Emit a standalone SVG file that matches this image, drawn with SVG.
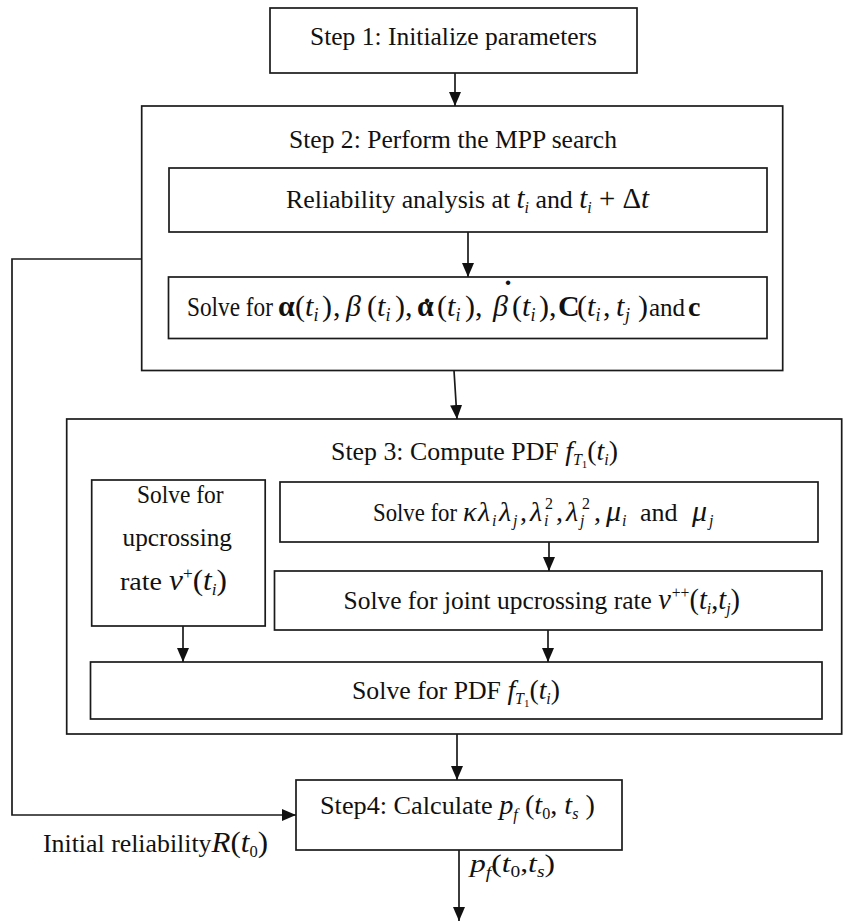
<svg xmlns="http://www.w3.org/2000/svg" width="843" height="922" viewBox="0 0 843 922">
  <defs>
    <style>
      svg { font-size: 26px; }
      .box { fill: #fff; stroke: #1a1a1a; stroke-width: 1.7; }
      .wire { fill: none; stroke: #1a1a1a; stroke-width: 1.7; }
      text { font-family: 'Liberation Serif', 'Times New Roman', 'DejaVu Serif', serif; fill: #111; }
      .m { font-style: italic; }
      .b { font-weight: bold; }
      .s { font-size: 16px; font-style: italic; }
      .ss { font-size: 11px; font-style: normal; }
      .sp { font-size: 16px; font-style: normal; }
      .eq { font-size: 30px; }
      .eqs { font-size: 18px; font-style: italic; }
    </style>
    <marker id="arrow" markerUnits="userSpaceOnUse" markerWidth="14" markerHeight="12" refX="14" refY="6" orient="auto">
      <path d="M0,0 L14,6 L0,12 Z" fill="#111"/>
    </marker>
  </defs>
  <rect width="843" height="922" fill="#fff"/>

  <!-- Step 1 -->
  <g id="step1">
    <rect class="box" x="270" y="8" width="367" height="65"/>
    <text x="310" y="45" textLength="287" lengthAdjust="spacingAndGlyphs">Step 1: Initialize parameters</text>
  </g>

  <!-- Step 2 container with its two inner boxes -->
  <g id="step2">
    <rect class="box" x="141.7" y="106" width="641" height="264.5"/>
    <text x="289" y="148" textLength="328" lengthAdjust="spacingAndGlyphs">Step 2: Perform the MPP search</text>
  </g>
  <g id="reliability">
    <rect class="box" x="169" y="168" width="598" height="64"/>
    <text x="286" y="208" textLength="363" lengthAdjust="spacingAndGlyphs">Reliability analysis at <tspan class="m" font-size="29">t</tspan><tspan class="s" dy="5">i</tspan><tspan dy="-5"> and </tspan><tspan class="m" font-size="29">t</tspan><tspan class="s" dy="5">i</tspan><tspan dy="-5" font-size="29"> + Δ</tspan><tspan class="m" font-size="29">t</tspan></text>
  </g>
  <g id="solve-alpha">
    <rect class="box" x="168.5" y="277" width="598.5" height="61.5"/>
    <text x="187" y="316" font-size="27" textLength="86" lengthAdjust="spacingAndGlyphs">Solve for</text>
    <!-- each symbol group is placed on its own x so the equation spacing holds -->
    <text y="316" font-size="25"><tspan class="eq b" x="278">α</tspan><tspan class="eq" x="295">(</tspan><tspan class="eq m" x="305">t</tspan><tspan class="eqs" x="313.5" dy="5">i</tspan><tspan class="eq" x="322" dy="-5">)</tspan><tspan class="eq" x="333">,</tspan><tspan class="eq m" x="346">β</tspan><tspan class="eq" x="367">(</tspan><tspan class="eq m" x="377">t</tspan><tspan class="eqs" x="385.5" dy="5">i</tspan><tspan class="eq" x="395" dy="-5">)</tspan><tspan class="eq" x="405">,</tspan><tspan class="eq b" x="417">α</tspan><tspan class="eq" x="437">(</tspan><tspan class="eq m" x="447">t</tspan><tspan class="eqs" x="455.5" dy="5">i</tspan><tspan class="eq" x="465" dy="-5">)</tspan><tspan class="eq" x="475">,</tspan><tspan class="eq m" x="493">β</tspan><tspan class="eq" x="512">(</tspan><tspan class="eq m" x="522">t</tspan><tspan class="eqs" x="530.5" dy="5">i</tspan><tspan class="eq" x="539" dy="-5">)</tspan><tspan class="eq" x="549">,</tspan><tspan class="eq b" x="558" font-size="28">C</tspan><tspan class="eq" x="577">(</tspan><tspan class="eq m" x="587">t</tspan><tspan class="eqs" x="595.5" dy="5">i</tspan><tspan class="eq" x="603" dy="-5">,</tspan><tspan class="eq m" x="616">t</tspan><tspan class="eqs" x="625" dy="5">j</tspan><tspan class="eq" x="638" dy="-5">)</tspan><tspan x="649">and</tspan><tspan class="b" x="688" font-size="28">c</tspan></text>
    <!-- time-derivative dots over alpha and beta -->
    <text class="b" x="427" y="319" font-size="30" text-anchor="middle">˙</text>
    <text class="b" x="508" y="301" font-size="30" text-anchor="middle">˙</text>
  </g>

  <!-- Step 3 container -->
  <g id="step3">
    <rect class="box" x="66.7" y="419" width="775" height="315"/>
    <text x="331" y="460" textLength="287" lengthAdjust="spacingAndGlyphs">Step 3: Compute PDF  <tspan class="m" font-size="28">f</tspan><tspan class="s" dy="5">T</tspan><tspan class="ss" dy="3">1</tspan><tspan dy="-8" font-size="28">(</tspan><tspan class="m" font-size="28">t</tspan><tspan class="s" dy="5">i</tspan><tspan dy="-5" font-size="28">)</tspan></text>
  </g>
  <g id="upcrossing">
    <rect class="box" x="91.7" y="480" width="173.5" height="146"/>
    <text x="137" y="503" textLength="86.5" lengthAdjust="spacingAndGlyphs">Solve for</text>
    <text x="122.5" y="546" textLength="109.5" lengthAdjust="spacingAndGlyphs">upcrossing</text>
    <text x="120" y="590" textLength="107" lengthAdjust="spacingAndGlyphs">rate  <tspan class="m" font-size="29">v</tspan><tspan class="sp" dy="-11">+</tspan><tspan dy="11" font-size="29">(</tspan><tspan class="m" font-size="29">t</tspan><tspan class="s" dy="5">i</tspan><tspan dy="-5" font-size="29">)</tspan></text>
  </g>
  <g id="spectral">
    <rect class="box" x="280" y="482" width="538" height="60"/>
    <text x="373" y="521" textLength="84" lengthAdjust="spacingAndGlyphs">Solve for</text>
    <text y="521" font-size="26"><tspan class="m" font-size="28" x="463">κ</tspan><tspan class="m" font-size="28" x="478">λ</tspan><tspan class="s" x="492" dy="5">i</tspan><tspan class="m" font-size="28" x="499" dy="-5">λ</tspan><tspan class="s" x="513" dy="5">j</tspan><tspan font-size="28" x="520" dy="-5">,</tspan><tspan class="m" font-size="28" x="530">λ</tspan><tspan class="s" x="544" dy="5">i</tspan><tspan class="sp" x="545" dy="-17">2</tspan><tspan font-size="28" x="556" dy="12">,</tspan><tspan class="m" font-size="28" x="566">λ</tspan><tspan class="s" x="580" dy="5">j</tspan><tspan class="sp" x="582" dy="-17">2</tspan><tspan font-size="28" x="594" dy="12">,</tspan><tspan class="m" font-size="30" x="606">μ</tspan><tspan class="s" x="622" dy="5">i</tspan><tspan x="640" dy="-5">and</tspan><tspan class="m" font-size="30" x="692">μ</tspan><tspan class="s" x="709" dy="5">j</tspan></text>
  </g>
  <g id="joint">
    <rect class="box" x="274.5" y="571" width="547.5" height="59"/>
    <text x="343.5" y="609" textLength="396.5" lengthAdjust="spacingAndGlyphs">Solve for joint upcrossing rate  <tspan class="m" font-size="29">v</tspan><tspan class="sp" dx="1" dy="-11">++</tspan><tspan dy="11" font-size="29">(</tspan><tspan class="m" font-size="29">t</tspan><tspan class="s" dy="5">i</tspan><tspan dy="-5" font-size="29">,</tspan><tspan class="m" font-size="29">t</tspan><tspan class="s" dy="5">j</tspan><tspan dy="-5" font-size="29">)</tspan></text>
  </g>
  <g id="pdf">
    <rect class="box" x="90.5" y="662" width="731.5" height="57"/>
    <text x="352" y="699" textLength="208" lengthAdjust="spacingAndGlyphs">Solve for PDF <tspan class="m" font-size="28">f</tspan><tspan class="s" dy="5">T</tspan><tspan class="ss" dy="3">1</tspan><tspan dy="-8" font-size="28">(</tspan><tspan class="m" font-size="28">t</tspan><tspan class="s" dy="5">i</tspan><tspan dy="-5" font-size="28">)</tspan></text>
  </g>

  <!-- Step 4 -->
  <g id="step4">
    <rect class="box" x="296" y="780" width="326" height="70"/>
    <text x="320" y="814" textLength="275" lengthAdjust="spacingAndGlyphs">Step4: Calculate  <tspan class="m" font-size="28">p</tspan><tspan class="s" dy="6">f</tspan><tspan dy="-6" font-size="28"> (</tspan><tspan class="m" font-size="28">t</tspan><tspan class="sp" dy="5">0</tspan><tspan dy="-5" font-size="28">, </tspan><tspan class="m" font-size="28">t</tspan><tspan class="s" dy="5">s</tspan><tspan dy="-5" font-size="28"> )</tspan></text>
  </g>

  <!-- Connectors -->
  <g id="connectors">
    <path class="wire" d="M455,73 V106" marker-end="url(#arrow)"/>
    <path class="wire" d="M468,232 V277" marker-end="url(#arrow)"/>
    <path class="wire" d="M454,370.5 L457,419" marker-end="url(#arrow)"/>
    <path class="wire" d="M549,542 V571" marker-end="url(#arrow)"/>
    <path class="wire" d="M183,626 V662" marker-end="url(#arrow)"/>
    <path class="wire" d="M548,630 V662" marker-end="url(#arrow)"/>
    <path class="wire" d="M457,734 V780" marker-end="url(#arrow)"/>
    <path class="wire" d="M459,850 V921" marker-end="url(#arrow)"/>
    <path class="wire" d="M141.7,259 H12 V815 H296" marker-end="url(#arrow)"/>
  </g>

  <!-- Connector labels -->
  <g id="labels">
    <text x="43" y="852" font-size="25" textLength="225" lengthAdjust="spacingAndGlyphs">Initial reliability<tspan class="m" font-size="30">R</tspan><tspan font-size="30">(</tspan><tspan class="m" font-size="30">t</tspan><tspan class="sp" font-size="18" dy="5">0</tspan><tspan font-size="30" dy="-5">)</tspan></text>
    <text x="470" y="872" textLength="85" lengthAdjust="spacingAndGlyphs"><tspan class="m">p</tspan><tspan class="s" dy="6">f</tspan><tspan dy="-6">(</tspan><tspan class="m">t</tspan><tspan class="sp" dy="5">0</tspan><tspan dy="-5">,</tspan><tspan class="m">t</tspan><tspan class="s" dy="5">s</tspan><tspan dy="-5">)</tspan></text>
  </g>
</svg>
